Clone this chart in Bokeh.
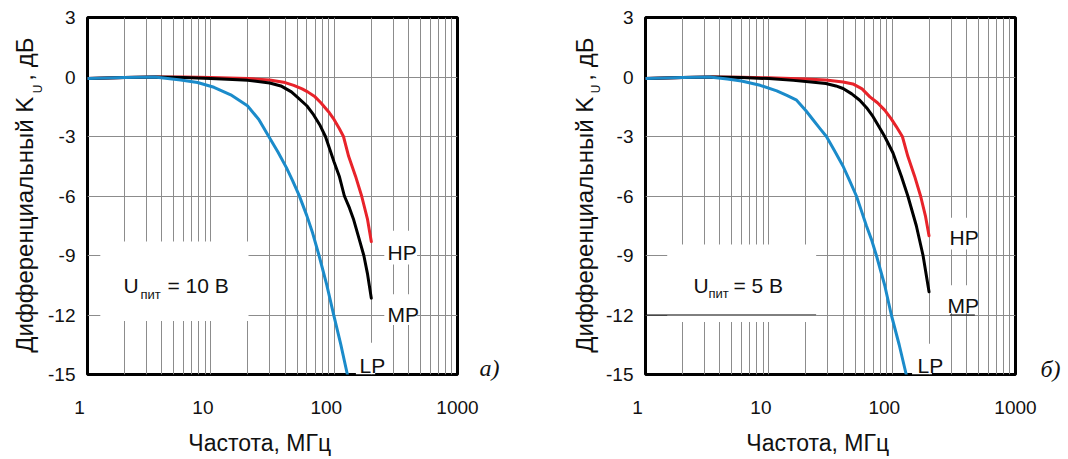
from bokeh.plotting import figure
from bokeh.models import FixedTicker, Label, Range1d, LinearAxis
from bokeh.layouts import row
from bokeh.embed import file_html
from bokeh.resources import INLINE

NB = "\u00a0"

# ---------------- data ----------------
FREQ_TICKS = [1, 10, 100, 1000]
FREQ_TICK_LABELS = ["1", "10", "100", "1000"]
FREQ_MINOR = [2, 3, 4, 5, 6, 7, 8, 9, 20, 30, 40, 50, 60, 70, 80, 90,
              200, 300, 400, 500, 600, 700, 800, 900]
GAIN_TICKS = [3, 0, -3, -6, -9, -12, -15]
GAIN_TICK_LABELS = ["3", "0", "-3", "-6", "-9", "-12", "-15"]

# panel a) U = 10 V
a_hp_f = [1, 2, 3.5, 6, 10, 20, 30, 40, 47, 55, 61, 70, 78, 90, 100, 110, 119, 131, 149, 167, 186, 200]
a_hp_k = [-0.08, -0.03, 0, 0, -0.03, -0.08, -0.15, -0.28, -0.42, -0.6, -0.75, -1.0, -1.3, -1.75,
          -2.15, -2.6, -3.0, -4.0, -5.0, -6.0, -7.15, -8.3]
a_mp_f = [1, 2, 3.5, 6, 10, 15, 20, 30, 37, 45, 50, 60, 68, 77, 85, 100, 110, 121, 133, 144,
          160, 174, 186, 200]
a_mp_k = [-0.08, -0.03, 0, -0.02, -0.07, -0.12, -0.17, -0.3, -0.45, -0.75, -1.0, -1.45, -1.9,
          -2.45, -3.0, -4.3, -5.0, -6.0, -6.6, -7.2, -8.2, -9.0, -9.9, -11.15]
a_lp_f = [1, 2, 3.5, 5.7, 7.8, 10.6, 14.5, 19.8, 24.5, 29.5, 35, 41, 46, 52, 60, 67, 75, 87,
          99, 113, 128]
a_lp_k = [-0.08, -0.03, 0, -0.15, -0.28, -0.52, -0.9, -1.45, -2.14, -3.0, -3.78, -4.57, -5.22,
          -5.97, -6.99, -7.88, -8.95, -10.47, -11.98, -13.47, -15.0]

# panel б) U = 5 V
b_hp_f = [1, 2, 3.5, 6, 10, 20, 29, 40, 48, 57, 66, 76, 87, 98, 108, 121, 134, 152, 170, 186, 199]
b_hp_k = [-0.07, -0.03, 0, -0.01, -0.04, -0.1, -0.15, -0.25, -0.35, -0.6, -1.0, -1.3, -1.67,
          -2.1, -2.5, -3.0, -4.0, -5.0, -6.0, -7.0, -8.0]
b_mp_f = [1, 2, 3.5, 6, 10, 15.8, 22, 29, 35, 40, 47, 54.6, 62, 70, 78, 87, 101.6, 118.7, 134,
          157, 178, 199]
b_mp_k = [-0.07, -0.03, 0, -0.03, -0.08, -0.17, -0.25, -0.33, -0.45, -0.58, -0.85, -1.17, -1.55,
          -2.0, -2.5, -3.0, -3.83, -5.0, -6.0, -7.5, -9.0, -10.83]
b_lp_f = [1, 2, 3.3, 4.6, 6, 8.5, 11.6, 14, 16.8, 20, 22.9, 26, 29.3, 34, 40, 45, 51.3, 56,
          61.8, 68, 74.5, 87, 98.5, 114, 130]
b_lp_k = [-0.07, -0.03, 0, -0.1, -0.2, -0.42, -0.7, -0.93, -1.17, -1.7, -2.17, -2.6, -3.0, -3.7,
          -4.5, -5.2, -6.0, -6.7, -7.5, -8.2, -9.0, -10.5, -12.0, -13.5, -15.0]

SERIES_NAMES = ["HP", "MP", "LP"]
SERIES_COLORS = ["#e8232a", "#000000", "#1b8bca"]

X_LABEL = "Частота, МГц"
Y_LABEL_MAIN = "Дифференциальный K"
Y_LABEL_SUB = "U"
Y_LABEL_TAIL = ", дБ"

SANS = "Liberation Sans"
SERIF = "Liberation Serif"
GRID = "#8c8c8c"
TXT = "#111111"

# trailing no-break spaces nudge labels left, as in the original artwork
FREQ_LABEL_PAD = [3, 3, 3, 0]
X_LABEL_PAD = 4


def text_axis(ticks, labels, font, size, standoff, orientation="horizontal", style="normal"):
    return LinearAxis(
        ticker=FixedTicker(ticks=ticks),
        major_label_overrides={t: l for t, l in zip(ticks, labels)},
        axis_line_color=None, major_tick_line_color=None, minor_tick_line_color=None,
        major_tick_out=0, major_tick_in=0, minor_tick_out=0, minor_tick_in=0,
        major_label_text_font=font, major_label_text_font_size=size,
        major_label_text_font_style=style, major_label_text_color=TXT,
        major_label_standoff=standoff, major_label_orientation=orientation,
    )


def make_panel(width, border_right, curves, supply, supply_pos, name_pos, tag, tag_y,
               tag_standoff, boxes, ylab_pos, extra_black=None):
    p = figure(width=width, height=458, x_axis_type="log",
               x_range=Range1d(1, 1000), y_range=Range1d(-15, 3),
               output_backend="svg", toolbar_location=None,
               min_border_left=87, min_border_right=border_right,
               min_border_top=17, min_border_bottom=81)
    p.title.visible = False
    p.background_fill_color = "white"
    p.border_fill_color = "white"
    p.outline_line_color = "black"
    p.outline_line_width = 3

    xt = FixedTicker(ticks=FREQ_TICKS, minor_ticks=FREQ_MINOR)
    yt = FixedTicker(ticks=GAIN_TICKS)
    xax = p.below[0]
    yax = p.left[0]
    xax.ticker = xt
    yax.ticker = yt
    p.xgrid.ticker = xt
    p.ygrid.ticker = yt
    xax.major_label_overrides = {t: l + NB * n for t, l, n in
                                 zip(FREQ_TICKS, FREQ_TICK_LABELS, FREQ_LABEL_PAD)}
    yax.major_label_overrides = {t: l for t, l in zip(GAIN_TICKS, GAIN_TICK_LABELS)}
    for ax in (xax, yax):
        ax.axis_line_color = None
        ax.major_tick_line_color = None
        ax.minor_tick_line_color = None
        ax.major_tick_out = 0
        ax.major_tick_in = 0
        ax.minor_tick_out = 0
        ax.minor_tick_in = 0
        ax.major_label_text_font = SANS
        ax.major_label_text_font_size = "19px"
        ax.major_label_text_color = TXT
    xax.major_label_standoff = 22
    yax.major_label_standoff = 12
    xax.axis_label = X_LABEL + NB * X_LABEL_PAD
    xax.axis_label_text_font = SANS
    xax.axis_label_text_font_size = "23px"
    xax.axis_label_text_font_style = "normal"
    xax.axis_label_text_color = TXT
    xax.axis_label_standoff = 9

    # y-axis title with subscript, built from label-only axes
    (main_y, tail_y, main_so), (sub_y, sub_so) = ylab_pos
    p.add_layout(text_axis([sub_y], [Y_LABEL_SUB], SANS, "12px", sub_so, "vertical"), "left")
    p.add_layout(text_axis([main_y, tail_y], [Y_LABEL_MAIN, Y_LABEL_TAIL], SANS, "24px",
                           main_so, "vertical"), "left")
    # panel tag a) / б)
    p.add_layout(text_axis([tag_y], [tag], SERIF, "24px", tag_standoff, "horizontal",
                           "italic"), "right")

    p.xgrid.grid_line_color = GRID
    p.xgrid.minor_grid_line_color = GRID
    p.ygrid.grid_line_color = GRID

    # white boxes behind the annotations
    for (l, r, t, b) in boxes:
        p.quad(left=l, right=r, top=t, bottom=b, fill_color="white", line_color=None)

    if extra_black:
        for (x0, x1, yv) in extra_black:
            p.segment(x0=[x0], x1=[x1], y0=[yv], y1=[yv], line_color="black", line_width=1)

    for (f, k), c in zip(curves, SERIES_COLORS):
        p.line(f, k, line_color=c, line_width=3, line_join="round", line_cap="round")

    for n, (sx, sy) in zip(SERIES_NAMES, name_pos):
        p.add_layout(Label(x=sx, y=sy, x_units="screen", y_units="screen", text=n,
                           text_font=SANS, text_font_size="21px", text_color=TXT,
                           text_baseline="alphabetic"))

    (ux, uy), (sx, sy), (ex, ey) = supply_pos
    p.add_layout(Label(x=ux, y=uy, x_units="screen", y_units="screen", text="U",
                       text_font=SANS, text_font_size="21px", text_color=TXT,
                       text_baseline="alphabetic"))
    p.add_layout(Label(x=sx, y=sy, x_units="screen", y_units="screen", text="пит",
                       text_font=SANS, text_font_size="13px", text_color=TXT,
                       text_baseline="alphabetic"))
    p.add_layout(Label(x=ex, y=ey, x_units="screen", y_units="screen", text=supply,
                       text_font=SANS, text_font_size="21px", text_color=TXT,
                       text_baseline="alphabetic"))
    return p


p1 = make_panel(
    width=558, border_right=101,
    curves=[(a_hp_f, a_hp_k), (a_mp_f, a_mp_k), (a_lp_f, a_lp_k)],
    supply="= 10 В",
    supply_pos=[(36, 89), (53, 80), (80, 89)],
    name_pos=[(300, 122), (300, 60), (272, 9)],
    tag="а)", tag_y=-14.65, tag_standoff=22,
    boxes=[(1.27, 20.2, -8.3, -12.3), (255, 470, -7.75, -9.45),
           (255, 470, -10.95, -12.5), (150, 215, -13.4, -15.0)],
    ylab_pos=((-7.45, 0.9, -10), (-0.6, 0)),
)

p2 = make_panel(
    width=510, border_right=53,
    curves=[(b_hp_f, b_hp_k), (b_mp_f, b_mp_k), (b_lp_f, b_lp_k)],
    supply="= 5 В",
    supply_pos=[(48, 89), (63, 81), (88, 89)],
    name_pos=[(304, 137), (302, 69), (272, 9)],
    tag="б)", tag_y=-14.7, tag_standoff=25,
    boxes=[(1.5, 24.2, -8.45, -12.35), (260, 480, -7.1, -8.7),
           (260, 480, -10.5, -11.9), (145, 210, -13.45, -15.0)],
    ylab_pos=((-7.45, 0.9, -12), (-0.6, 0)),
    extra_black=[(1, 24.2, -12), (294, 468, -12)],
)

layout = row(p1, p2)
open("out.html", "w").write(file_html(layout, INLINE))
